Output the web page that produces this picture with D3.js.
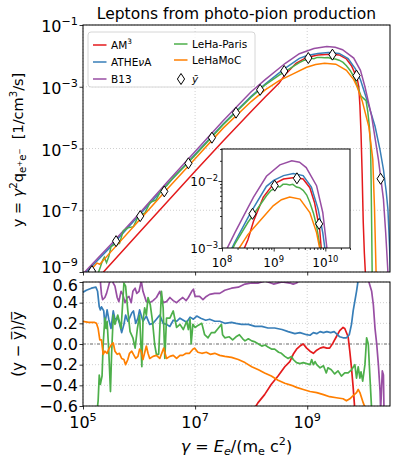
<!DOCTYPE html>
<html>
<head>
<meta charset="utf-8">
<script src="https://cdnjs.cloudflare.com/ajax/libs/d3/7.8.5/d3.min.js"></script>
<style>
  body { margin: 0; background: #fff; }
  svg { font-family: "DejaVu Sans", sans-serif; }
  text { white-space: pre; }
</style>
</head>
<body>
<svg id="chart" width="396" height="468"></svg>
<script>
// all curves: [log10(gamma), log10(y)]
let seriesNames = ["AM3", "ATHEvA", "B13", "LeHa-Paris", "LeHaMoC"];
let seriesColors = ["#e41a1c", "#377eb8", "#984ea3", "#4daf4a", "#ff7f00"];

let specAM3 = [[5.30,-9.13],[6.00,-7.73],[6.50,-6.73],[7.00,-5.74],[7.50,-4.76],[8.00,-3.80],[8.25,-3.33],[8.50,-2.88],
  [8.61,-2.60],[8.80,-2.24],[8.99,-2.05],[9.19,-1.97],[9.41,-1.95],[9.57,-1.97],[9.70,-2.10],[9.79,-2.32],[9.89,-2.72],
  [9.92,-3.00],[9.94,-3.60],[9.96,-4.50],[9.98,-5.80],[10.00,-7.40],[10.02,-8.40],[10.04,-9.10]];
let specAthena = [[5.00,-9.11],[5.50,-8.17],[6.00,-7.16],[6.50,-6.17],[7.00,-5.19],[7.50,-4.21],[8.00,-3.31],[8.25,-2.91],
  [8.50,-2.55],[8.61,-2.40],[8.86,-2.08],[9.00,-1.99],[9.19,-1.92],[9.38,-1.89],[9.57,-1.92],[9.73,-2.09],[9.86,-2.42],
  [9.95,-2.77],[9.99,-3.00],[10.10,-3.62],[10.21,-4.28],[10.30,-5.05],[10.36,-5.68],[10.41,-6.40],[10.44,-6.97],
  [10.47,-8.20],[10.49,-9.30]];
let specB13 = [[5.00,-9.06],[5.50,-8.10],[6.00,-7.11],[6.50,-6.09],[7.00,-5.10],[7.50,-4.10],[8.00,-3.16],[8.25,-2.77],
  [8.50,-2.40],[8.61,-2.24],[8.86,-1.93],[9.12,-1.76],[9.35,-1.70],[9.50,-1.72],[9.63,-1.80],[9.83,-2.07],[9.95,-2.47],
  [10.03,-3.00],[10.15,-3.96],[10.27,-5.35],[10.36,-6.64],[10.40,-7.72],[10.44,-9.00],[10.46,-9.50]];
let specParis = [[5.22,-9.40],[5.27,-9.04],[5.31,-8.84],[5.35,-8.62],[5.38,-8.52],[5.42,-8.70],[5.46,-8.50],[5.50,-8.18],
  [5.58,-8.08],[5.65,-8.08],[5.72,-7.66],[5.80,-7.57],[5.90,-7.53],[6.00,-7.14],[6.10,-7.10],[6.20,-6.74],[6.30,-6.67],
  [6.40,-6.34],[6.50,-6.19],[6.60,-5.96],[6.80,-5.60],[7.00,-5.22],[7.50,-4.23],[8.00,-3.34],[8.25,-2.94],[8.50,-2.62],
  [8.61,-2.50],[8.86,-2.22],[8.95,-2.14],[9.00,-2.12],[9.06,-2.08],[9.12,-2.09],[9.18,-2.05],[9.25,-2.05],[9.31,-2.06],
  [9.37,-2.05],[9.44,-2.09],[9.50,-2.10],[9.57,-2.14],[9.64,-2.21],[9.70,-2.32],[9.77,-2.48],[9.83,-2.67],[9.90,-3.00],
  [9.96,-3.30],[10.02,-3.40],[10.05,-3.45],[10.08,-3.80],[10.11,-4.30],[10.13,-4.90],[10.14,-6.00],[10.15,-7.50],[10.16,-9.20]];
let specMoC = [[5.00,-9.21],[5.25,-8.71],[5.30,-8.75],[5.50,-8.34],[6.00,-7.33],[6.50,-6.32],[7.00,-5.33],[7.50,-4.34],
  [8.00,-3.48],[8.25,-3.10],[8.50,-2.80],[8.74,-2.59],[8.99,-2.37],[9.15,-2.28],[9.31,-2.24],[9.51,-2.27],[9.70,-2.47],
  [9.83,-2.77],[9.89,-3.00],[9.98,-3.45],[10.10,-4.30],[10.17,-5.35],[10.20,-6.90],[10.23,-9.10]];
// mean of the codes (diamonds)
let meanPts = [[5.16,-8.97],[5.59,-8.00],[6.02,-7.19],[6.45,-6.39],[6.88,-5.48],[7.30,-4.65],[7.73,-3.84],[8.16,-3.10],
  [8.59,-2.49],[9.02,-2.07],[9.45,-1.96],[9.88,-2.64],[10.31,-5.98]];

// residuals (y - ybar)/ybar : [log10(gamma), value]
let resAM3 = [[8.04,-0.64],[8.12,-0.57],[8.24,-0.49],[8.36,-0.39],[8.48,-0.31],[8.60,-0.22],[8.69,-0.17],[8.75,-0.10],
  [8.81,-0.05],[8.87,-0.02],[8.93,0.00],[8.99,-0.04],[9.05,-0.07],[9.11,-0.09],[9.17,-0.06],[9.23,-0.04],[9.29,-0.03],
  [9.35,-0.04],[9.40,-0.04],[9.46,0.01],[9.52,0.07],[9.58,0.13],[9.64,0.16],[9.67,0.15],[9.73,0.07],[9.76,-0.07],
  [9.79,-0.23],[9.82,-0.42],[9.85,-0.64]];
let resAthena = [[5.00,0.50],[5.06,0.52],[5.15,0.54],[5.23,0.55],[5.26,0.51],[5.29,0.36],[5.31,0.33],[5.33,0.36],[5.37,0.32],
  [5.39,0.19],[5.43,0.33],[5.46,0.24],[5.50,0.15],[5.54,0.32],[5.57,0.24],[5.62,0.25],[5.65,0.20],[5.69,0.11],[5.73,0.19],
  [5.76,0.28],[5.80,0.22],[5.83,0.25],[5.87,0.30],[5.90,0.32],[5.94,0.20],[5.98,0.25],[6.01,0.33],[6.07,0.22],[6.13,0.27],
  [6.19,0.19],[6.25,0.20],[6.31,0.24],[6.37,0.28],[6.43,0.20],[6.49,0.19],[6.55,0.17],[6.61,0.23],[6.67,0.22],[6.73,0.25],
  [6.79,0.23],[6.85,0.21],[6.91,0.26],[6.97,0.24],[7.03,0.27],[7.10,0.25],[7.19,0.23],[7.26,0.24],[7.35,0.22],[7.44,0.22],
  [7.53,0.20],[7.65,0.21],[7.73,0.20],[7.83,0.19],[7.95,0.19],[8.07,0.17],[8.19,0.17],[8.30,0.155],[8.42,0.155],[8.55,0.14],
  [8.66,0.12],[8.78,0.10],[8.87,0.11],[8.99,0.09],[9.05,0.085],[9.11,0.11],[9.17,0.10],[9.23,0.12],[9.29,0.11],[9.35,0.12],
  [9.42,0.11],[9.48,0.12],[9.54,0.09],[9.58,0.07],[9.64,0.06],[9.70,0.06],[9.75,0.09],[9.79,0.19],[9.82,0.32],[9.88,0.51],
  [9.91,0.62],[9.95,0.80]];
let resB13 = [[5.00,0.75],[5.20,0.72],[5.28,0.68],[5.30,0.66],[5.33,0.48],[5.35,0.43],[5.39,0.45],[5.42,0.49],[5.46,0.57],
  [5.50,0.65],[5.54,0.59],[5.57,0.56],[5.61,0.45],[5.64,0.41],[5.68,0.51],[5.71,0.48],[5.75,0.40],[5.79,0.45],[5.82,0.46],
  [5.86,0.40],[5.89,0.51],[5.93,0.54],[5.96,0.49],[6.00,0.51],[6.04,0.61],[6.07,0.51],[6.13,0.41],[6.19,0.40],[6.25,0.42],
  [6.31,0.45],[6.37,0.51],[6.43,0.40],[6.49,0.41],[6.55,0.45],[6.61,0.42],[6.67,0.40],[6.73,0.43],[6.78,0.45],[6.84,0.42],
  [6.88,0.45],[6.94,0.51],[6.97,0.53],[7.00,0.46],[7.08,0.46],[7.14,0.43],[7.20,0.46],[7.26,0.48],[7.35,0.49],[7.44,0.49],
  [7.53,0.52],[7.65,0.54],[7.77,0.55],[7.89,0.58],[8.01,0.59],[8.13,0.59],[8.25,0.61],[8.40,0.58],[8.55,0.60],[8.69,0.59],
  [8.75,0.58],[8.81,0.59],[8.87,0.62],[9.00,0.68],[9.50,0.75],[9.90,0.90],[10.05,0.70],[10.09,0.62],[10.15,0.51],
  [10.18,0.38],[10.21,0.15],[10.24,0.00],[10.27,-0.20],[10.30,-0.46],[10.31,-0.64],[10.34,-0.26],[10.36,-0.30],
  [10.37,-0.64],[10.40,-0.70]];
let resParis = [[5.24,-0.70],[5.27,-0.55],[5.29,-0.30],[5.31,-0.39],[5.34,-0.31],[5.36,0.00],[5.39,0.25],[5.41,0.15],
  [5.43,0.22],[5.46,-0.07],[5.49,-0.46],[5.51,-0.10],[5.54,0.28],[5.57,0.19],[5.62,0.28],[5.68,0.15],[5.73,0.59],[5.76,0.56],
  [5.80,0.32],[5.84,0.12],[5.89,0.06],[5.93,-0.04],[5.97,0.15],[6.01,0.28],[6.05,-0.22],[6.07,0.22],[6.10,0.35],[6.13,0.28],
  [6.16,0.45],[6.20,0.38],[6.24,0.22],[6.28,-0.01],[6.31,-0.10],[6.35,-0.10],[6.40,0.51],[6.43,0.35],[6.46,-0.14],[6.49,0.25],
  [6.55,0.25],[6.61,0.32],[6.67,0.16],[6.73,0.19],[6.79,0.14],[6.85,0.22],[6.88,0.14],[6.91,0.24],[6.93,0.00],[6.96,0.19],
  [7.00,0.16],[7.05,0.18],[7.12,0.20],[7.17,0.09],[7.23,0.06],[7.29,0.11],[7.35,0.11],[7.41,0.15],[7.47,0.19],[7.49,0.09],
  [7.53,0.06],[7.61,0.07],[7.67,0.04],[7.73,0.07],[7.79,0.09],[7.85,0.05],[7.89,0.03],[7.95,0.05],[8.01,0.03],[8.07,0.02],
  [8.13,0.00],[8.19,-0.02],[8.25,-0.01],[8.30,-0.03],[8.37,-0.05],[8.42,-0.05],[8.49,-0.08],[8.54,-0.09],[8.60,-0.12],
  [8.66,-0.14],[8.72,-0.12],[8.75,-0.15],[8.81,-0.18],[8.87,-0.19],[8.93,-0.18],[8.99,-0.19],[9.05,-0.20],[9.08,-0.15],
  [9.11,-0.20],[9.14,-0.17],[9.17,-0.20],[9.23,-0.23],[9.29,-0.21],[9.34,-0.28],[9.37,-0.23],[9.43,-0.25],[9.49,-0.29],
  [9.55,-0.26],[9.61,-0.31],[9.67,-0.28],[9.73,-0.28],[9.79,-0.25],[9.85,-0.20],[9.88,-0.33],[9.91,-0.22],[9.94,-0.33],
  [9.96,-0.27],[9.99,-0.36],[10.03,-0.20],[10.06,0.06],[10.09,0.00],[10.12,-0.33],[10.15,-0.64]];
let resMoC = [[5.00,0.22],[5.10,0.21],[5.20,0.21],[5.24,0.20],[5.27,0.15],[5.30,0.04],[5.33,0.04],[5.36,-0.10],[5.39,-0.07],
  [5.43,-0.09],[5.46,-0.05],[5.50,-0.01],[5.54,0.01],[5.57,-0.07],[5.61,-0.10],[5.65,-0.09],[5.69,-0.14],[5.73,-0.15],
  [5.76,-0.20],[5.80,-0.15],[5.83,-0.09],[5.87,-0.07],[5.90,-0.10],[5.94,-0.14],[5.98,-0.12],[6.01,-0.05],[6.04,-0.07],
  [6.07,-0.15],[6.13,-0.02],[6.16,-0.09],[6.19,-0.14],[6.25,-0.12],[6.31,-0.11],[6.37,-0.14],[6.44,-0.04],[6.49,-0.14],
  [6.55,-0.12],[6.61,-0.11],[6.67,-0.14],[6.73,-0.11],[6.78,-0.11],[6.84,-0.09],[6.90,-0.09],[6.96,-0.05],[6.99,-0.04],
  [7.05,-0.08],[7.12,-0.09],[7.20,-0.08],[7.27,-0.10],[7.35,-0.09],[7.44,-0.11],[7.53,-0.12],[7.65,-0.13],[7.77,-0.15],
  [7.89,-0.18],[8.01,-0.22],[8.13,-0.25],[8.24,-0.28],[8.36,-0.31],[8.48,-0.35],[8.60,-0.38],[8.72,-0.40],[8.81,-0.42],
  [8.93,-0.44],[9.05,-0.46],[9.17,-0.47],[9.29,-0.49],[9.40,-0.51],[9.52,-0.52],[9.64,-0.53],[9.70,-0.55],[9.76,-0.53],
  [9.82,-0.50],[9.88,-0.47],[9.91,-0.44],[9.94,-0.47],[9.97,-0.52],[10.00,-0.57],[10.05,-0.64]];

let specList = [specAM3, specAthena, specB13, specParis, specMoC];
let resList = [resAM3, resAthena, resB13, resParis, resMoC];

// tick labels
let xTickExp = [5, 7, 9];
let yTopExp = [-9, -7, -5, -3, -1];
let resTicks = [-0.6, -0.4, -0.2, 0.0, 0.2, 0.4, 0.6];
let resTickLabels = ["\u22120.6", "\u22120.4", "\u22120.2", "0.0", "0.2", "0.4", "0.6"];
let insetXExp = [8, 9, 10];
let insetYExp = [-3, -2];

let svg = d3.select("#chart");

let xMain = d3.scaleLog().domain([1e5, 3e10]).range([83, 390]);
let yTop = d3.scaleLog().domain([1e-9, 1e-1]).range([272, 25]);
let yRes = d3.scaleLinear().domain([-0.6, 0.6]).range([406, 282]);
let xIn = d3.scaleLog().domain([1e8, 3e10]).range([222, 350]);
let yIn = d3.scaleLog().domain([1e-3, 3e-2]).range([248, 149]);

// text with super/subscripts, parts = [str, kind, italic]
function richText(parent, parts, size, x, y, anchor) {
     let t = parent.append("text").attr("x", x).attr("y", y)
          .attr("font-size", size).attr("text-anchor", anchor || "start");
     let cur = 0;
     parts.forEach(p => {
          let kind = p[1] || "";
          let off = 0, fs = size;
          if (kind == "sup") { off = -0.42 * size; fs = size * 0.7; }
          if (kind == "sub") { off = 0.2 * size; fs = size * 0.7; }
          if (kind == "subsup") { off = -0.05 * size; fs = size * 0.5; }
          let ts = t.append("tspan").attr("font-size", fs).attr("dy", off - cur).text(p[0]);
          if (p[2]) ts.attr("font-style", "italic");
          cur = off;
     });
     return t;
}

function powLabel(e) {
     return [["10"], [(e < 0 ? "\u2212" : "") + Math.abs(e), "sup"]];
}

let defs = svg.append("defs");
function clip(id, x0, y0, x1, y1) {
     defs.append("clipPath").attr("id", id).append("rect")
          .attr("x", x0).attr("y", y0).attr("width", x1 - x0).attr("height", y1 - y0);
}
clip("cTop", 83, 25, 390, 272);
clip("cRes", 83, 282, 390, 406);
clip("cIn", 222, 149, 350, 248);

function gridStyle(sel) {
     sel.attr("stroke", "#c4c4c4").attr("stroke-width", 0.8).attr("stroke-dasharray", "1,2");
}

// ---------- top panel ----------
let topG = svg.append("g");
xTickExp.forEach(e => {
     topG.append("line").attr("x1", xMain(10 ** e)).attr("x2", xMain(10 ** e))
          .attr("y1", 25).attr("y2", 272).call(gridStyle);
});
yTopExp.forEach(e => {
     topG.append("line").attr("x1", 83).attr("x2", 390)
          .attr("y1", yTop(10 ** e)).attr("y2", yTop(10 ** e)).call(gridStyle);
});

let lineTop = d3.line().x(d => xMain(10 ** d[0])).y(d => yTop(10 ** d[1]));
let topLines = topG.append("g").attr("clip-path", "url(#cTop)");
specList.forEach((s, i) => {
     topLines.append("path").attr("d", lineTop(s)).attr("fill", "none")
          .attr("stroke", seriesColors[i]).attr("stroke-width", 1.5);
});

let diamond = "M0,-5.5L3.6,0L0,5.5L-3.6,0Z";
topLines.selectAll(".dm").data(meanPts).enter().append("path")
     .attr("d", diamond)
     .attr("transform", d => `translate(${xMain(10 ** d[0])},${yTop(10 ** d[1])})`)
     .attr("fill", "#fff").attr("stroke", "#000").attr("stroke-width", 1);

topG.append("g").attr("transform", "translate(83,0)")
     .call(d3.axisLeft(yTop).tickValues(yTopExp.map(e => 10 ** e)).tickSize(3.5).tickFormat(""))
     .call(g => g.select(".domain").remove());
topG.append("g").attr("transform", "translate(0,272)")
     .call(d3.axisBottom(xMain).tickValues(xTickExp.map(e => 10 ** e)).tickSize(3.5).tickFormat(""))
     .call(g => g.select(".domain").remove());
topG.append("rect").attr("x", 83).attr("y", 25).attr("width", 307).attr("height", 247)
     .attr("fill", "none").attr("stroke", "#000").attr("stroke-width", 1);

yTopExp.forEach(e => {
     // lowest label sits a little higher so it clears the 0.6 of the lower panel
     richText(topG, powLabel(e), 16, 78, yTop(10 ** e) + (e == -9 ? 1 : 7), "end");
});

// ---------- inset ----------
let ins = svg.append("g");
ins.append("rect").attr("x", 222).attr("y", 149).attr("width", 128).attr("height", 99).attr("fill", "#fff");
let lineIn = d3.line().x(d => xIn(10 ** d[0])).y(d => yIn(10 ** d[1]));
let inLines = ins.append("g").attr("clip-path", "url(#cIn)");
specList.forEach((s, i) => {
     inLines.append("path").attr("d", lineIn(s)).attr("fill", "none")
          .attr("stroke", seriesColors[i]).attr("stroke-width", 1.5);
});
inLines.selectAll(".dm").data(meanPts).enter().append("path")
     .attr("d", diamond)
     .attr("transform", d => `translate(${xIn(10 ** d[0])},${yIn(10 ** d[1])})`)
     .attr("fill", "#fff").attr("stroke", "#000").attr("stroke-width", 1);

let inMinorX = [], inMinorY = [];
[8, 9, 10].forEach(e => [2, 3, 4, 5, 6, 7, 8, 9].forEach(m => { if (m * 10 ** e <= 3e10) inMinorX.push(m * 10 ** e); }));
[-3, -2].forEach(e => [2, 3, 4, 5, 6, 7, 8, 9].forEach(m => { if (m * 10 ** e <= 3e-2) inMinorY.push(m * 10 ** e); }));
ins.append("g").attr("transform", "translate(222,0)")
     .call(d3.axisLeft(yIn).tickValues(insetYExp.map(e => 10 ** e)).tickSize(3.5).tickFormat(""))
     .call(g => g.select(".domain").remove());
ins.append("g").attr("transform", "translate(222,0)")
     .call(d3.axisLeft(yIn).tickValues(inMinorY).tickSize(2).tickFormat(""))
     .call(g => g.select(".domain").remove());
ins.append("g").attr("transform", "translate(0,248)")
     .call(d3.axisBottom(xIn).tickValues(insetXExp.map(e => 10 ** e)).tickSize(3.5).tickFormat(""))
     .call(g => g.select(".domain").remove());
ins.append("g").attr("transform", "translate(0,248)")
     .call(d3.axisBottom(xIn).tickValues(inMinorX).tickSize(2).tickFormat(""))
     .call(g => g.select(".domain").remove());
ins.append("rect").attr("x", 222).attr("y", 149).attr("width", 128).attr("height", 99)
     .attr("fill", "none").attr("stroke", "#000").attr("stroke-width", 1);
insetYExp.forEach(e => {
     richText(ins, powLabel(e), 12, 218, yIn(10 ** e) + 5, "end");
});
insetXExp.forEach(e => {
     richText(ins, powLabel(e), 12, xIn(10 ** e), 267, "middle");
});

// ---------- residual panel ----------
let bot = svg.append("g");
xTickExp.forEach(e => {
     bot.append("line").attr("x1", xMain(10 ** e)).attr("x2", xMain(10 ** e))
          .attr("y1", 282).attr("y2", 406).call(gridStyle);
});
resTicks.forEach(v => {
     if (v == 0) return;
     bot.append("line").attr("x1", 83).attr("x2", 390)
          .attr("y1", yRes(v)).attr("y2", yRes(v)).call(gridStyle);
});
bot.append("line").attr("x1", 83).attr("x2", 390).attr("y1", yRes(0)).attr("y2", yRes(0))
     .attr("stroke", "#555").attr("stroke-width", 0.9).attr("stroke-dasharray", "3,1.5,1,1.5");

let lineRes = d3.line().x(d => xMain(10 ** d[0])).y(d => yRes(d[1]));
let resLines = bot.append("g").attr("clip-path", "url(#cRes)");
resList.forEach((s, i) => {
     resLines.append("path").attr("d", lineRes(s)).attr("fill", "none")
          .attr("stroke", seriesColors[i]).attr("stroke-width", 1.7).attr("stroke-linejoin", "round");
});

bot.append("g").attr("transform", "translate(83,0)")
     .call(d3.axisLeft(yRes).tickValues(resTicks).tickSize(3.5).tickFormat(""))
     .call(g => g.select(".domain").remove());
bot.append("g").attr("transform", "translate(0,406)")
     .call(d3.axisBottom(xMain).tickValues(xTickExp.map(e => 10 ** e)).tickSize(3.5).tickFormat(""))
     .call(g => g.select(".domain").remove());
bot.append("rect").attr("x", 83).attr("y", 282).attr("width", 307).attr("height", 124)
     .attr("fill", "none").attr("stroke", "#000").attr("stroke-width", 1);

resTicks.forEach((v, i) => {
     bot.append("text").attr("x", 78).attr("y", yRes(v) + (v == 0.6 ? 8.5 : 5.5)).attr("text-anchor", "end")
          .attr("font-size", 16).text(resTickLabels[i]);
});
xTickExp.forEach(e => {
     richText(bot, powLabel(e), 16, xMain(10 ** e), 428, "middle");
});

svg.selectAll(".tick line").attr("stroke", "#000").attr("stroke-width", 0.8);

// ---------- texts ----------
svg.append("text").attr("x", 236.5).attr("y", 18.5).attr("text-anchor", "middle")
     .attr("font-size", 15.5).text("Leptons from photo-pion production");

let yl1 = svg.append("g").attr("transform", "translate(23,150) rotate(-90)");
richText(yl1, [["y = "], ["\u03b3", "", true], ["2", "sup"], ["q"], ["e", "sub"], ["+", "subsup"], ["e", "sub"],
     ["\u2212", "subsup"], ["  [1/cm"], ["3", "sup"], ["/s]"]], 14.5, 0, 0, "middle");

let yl2 = svg.append("g").attr("transform", "translate(23,344) rotate(-90)");
richText(yl2, [["(y \u2212 y\u0305)/y\u0305"]], 15, 0, 0, "middle");

richText(svg, [["\u03b3", "", true], [" = "], ["E", "", true], ["e", "sub", true], ["/(m"], ["e", "sub"], [" c"],
     ["2", "sup"], [")"]], 16, 236.5, 452, "middle");

// ---------- legend ----------
let leg = svg.append("g");
leg.append("rect").attr("x", 88).attr("y", 32).attr("width", 167).attr("height", 55).attr("rx", 3)
     .attr("fill", "#fff").attr("fill-opacity", 0.8).attr("stroke", "#ccc").attr("stroke-width", 0.8);
let legPos = [[93, 45], [93, 62], [93, 79], [174, 44], [174, 60]];
let legLabels = [[["AM"], ["3", "sup"]], [["ATHE"], ["\u03bd", "", true], ["A"]], [["B13"]], [["LeHa-Paris"]], [["LeHaMoC"]]];
legPos.forEach((p, i) => {
     leg.append("line").attr("x1", p[0]).attr("x2", p[0] + 13.5).attr("y1", p[1]).attr("y2", p[1])
          .attr("stroke", seriesColors[i]).attr("stroke-width", 1.5);
     richText(leg, legLabels[i], 10.5, p[0] + 18, p[1] + 3.8, "start");
});
leg.append("path").attr("d", diamond).attr("transform", "translate(181,79)")
     .attr("fill", "#fff").attr("stroke", "#000").attr("stroke-width", 1);
richText(leg, [["y\u0304", "", true]], 10.5, 192, 82.8, "start");
</script>
</body>
</html>
